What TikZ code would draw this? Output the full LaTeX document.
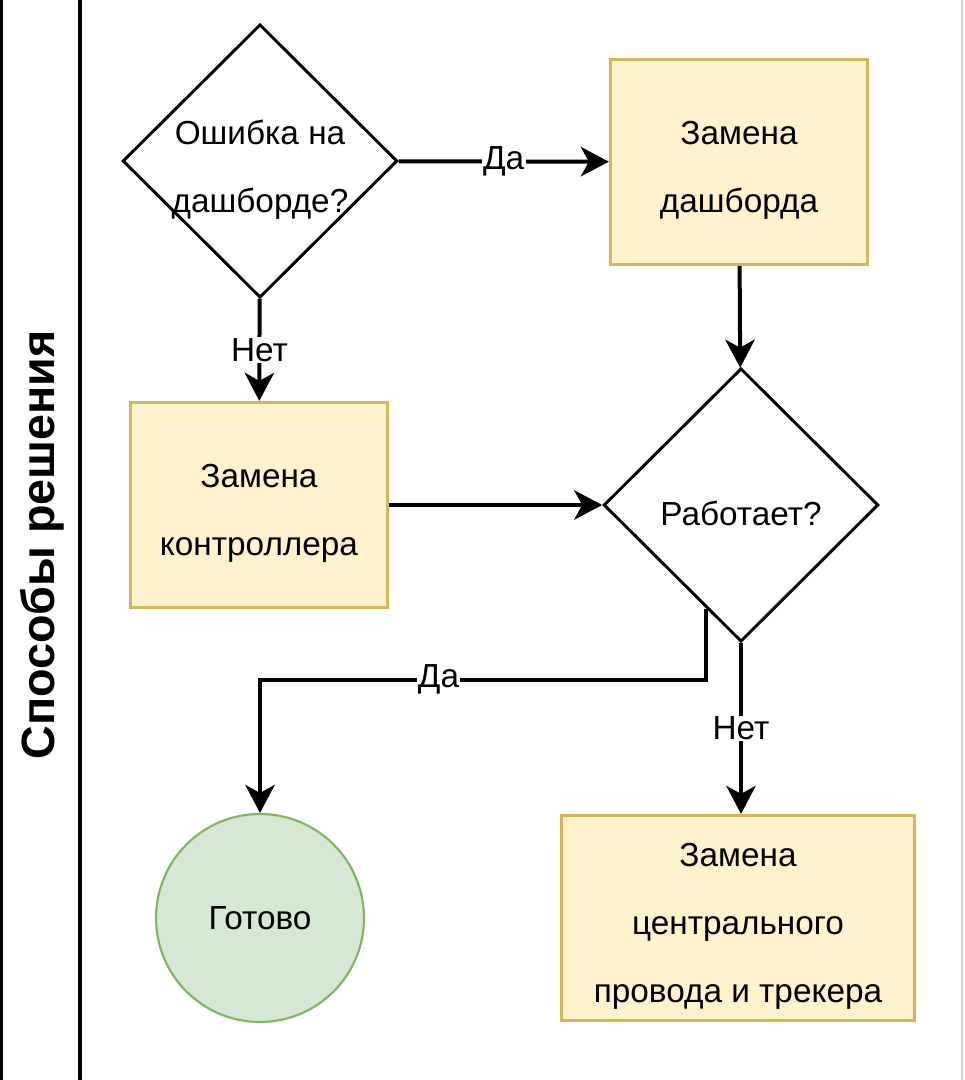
\documentclass[tikz,border=0pt]{standalone}
\usepackage{fontspec}
\setmainfont{Liberation Sans}
\usepackage{tikz}
\usetikzlibrary{shapes.geometric,arrows.meta,calc}
\definecolor{noteyellow}{HTML}{FFF2CC}
\definecolor{noteborder}{HTML}{D6B656}
\definecolor{donegreen}{HTML}{D5E8D4}
\definecolor{doneborder}{HTML}{82B366}
\definecolor{lanegray}{HTML}{D0D0D0}
\newcommand{\boxfont}{\fontsize{25}{51}\selectfont}
\tikzset{
textlabel/.style={align=center,font=\boxfont,inner sep=0pt,yshift=-6.5pt},
decision/.style={diamond,draw=black,line width=2.2pt,minimum width=206pt,minimum height=205pt,inner sep=0pt,label={[textlabel]center:#1}},
action/.style={rectangle,draw=noteborder,fill=noteyellow,line width=2.2pt,minimum width=193pt,minimum height=154pt,label={[textlabel]center:#1}},
finish/.style={circle,draw=doneborder,fill=donegreen,line width=1.6pt,minimum size=156pt,inner sep=0pt,font=\boxfont},
flow/.style={line width=3pt,draw=black,-{Stealth[length=21pt,width=22pt,inset=6pt]}},
answer/.style={fill=white,inner sep=1pt,font=\boxfont},
lanetitle/.style={rotate=90,font=\fontsize{35}{40}\selectfont\bfseries},
}

\begin{document}
\begin{tikzpicture}[x=0.75pt,y=-0.75pt]
\useasboundingbox (0,0) rectangle (964,1080);
% swimlane
\draw[line width=2.4pt] (1.5,0) -- (1.5,1080);
\draw[line width=3pt] (80,0) -- (80,1080);
\draw[line width=1.5pt,draw=lanegray] (962,0) -- (962,1080);
\node[lanetitle] (lane) at (42,545) {Способы решения};

% blocks
\node[decision={Ошибка на\\дашборде?}] (err) at (260,161) {};
\node[action={Замена\\дашборда}] (dash) at (739,162) {};
\node[action={Замена\\контроллера}] (ctrl) at (259,505) {};
\node[decision={Работает?}] (works) at (741,505) {};
\node[finish] (done) at (260,918) {Готово};
\node[action={Замена\\центрального\\провода и трекера},minimum width=265pt] (wire) at (738,918) {};

% links
\draw[flow] (err) -- node[answer] {Да} (dash);
\draw[flow] (err) -- node[answer] {Нет} (ctrl);
\draw[flow] (dash) -- (works);
\draw[flow] (ctrl) -- (works);
\coordinate (exit) at ($(works.west)!0.75!(works.south)$);
\draw[flow] (exit) -- ++(0,71) -| node[answer,pos=0.3] {Да} (done);
\draw[flow] (works.south) -- node[answer] {Нет} (works.south |- wire.north);
\end{tikzpicture}
\end{document}
